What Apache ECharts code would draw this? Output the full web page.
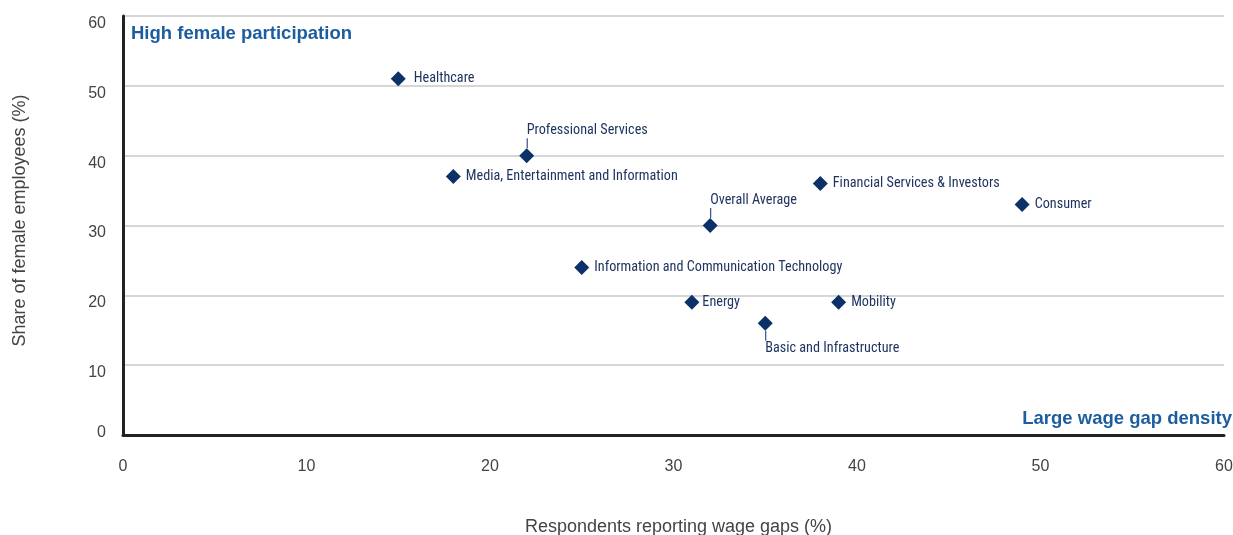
<!DOCTYPE html>
<html><head><meta charset="utf-8">
<script src="https://cdn.jsdelivr.net/npm/echarts@6/dist/echarts.min.js"></script>
<style>html,body{margin:0;padding:0;background:#fff}#c{width:1233px;height:535px}</style>
</head><body><div id="c"></div>
<script>
const sectors = ['Healthcare','Professional Services','Media, Entertainment and Information','Financial Services & Investors','Consumer','Overall Average','Information and Communication Technology','Energy','Mobility','Basic and Infrastructure'];
const wageGap = [15,22,18,38,49,32,25,31,39,35];
const femaleShare = [51,40,37,36,33,30,24,19,19,16];
const labelPlace = ['right','top','right','right','right','top','right','right','right','bottom'];
const xTicks = [0,10,20,30,40,50,60];
const yTicks = [0,10,20,30,40,50,60];

const navy = '#0b3168';
const txt = '#1f3560';
const fontNarrow = "'Liberation Sans Narrow','Roboto Condensed','Arial Narrow','DejaVu Sans Condensed',sans-serif";
const fontMain = "'Liberation Sans', Arial, sans-serif";

const data = sectors.map((s,i)=>{
  const p = labelPlace[i];
  let label;
  if (p==='top') {
    label = {position:'top', align:'left', distance:0,
      formatter:'{t|'+s+'}\n{l|}'};
  } else if (p==='bottom') {
    label = {position:'bottom', align:'left', distance:0,
      formatter:'{l|}\n{t|'+s+'}'};
  } else {
    label = {position:'right', distance: s==='Healthcare'?8:(s==='Energy'?3:5), formatter:'{t|'+s+'}'};
  }
  return {name:s, value:[wageGap[i], femaleShare[i]], label};
});

const chart = echarts.init(document.getElementById('c'));
chart.setOption({
  animation:false,
  grid:{left:123,right:9,top:16,bottom:100,outerBoundsMode:'none',containLabel:false},
  xAxis:{type:'value',min:0,max:60,interval:10,
    name:'Respondents reporting wage gaps (%)',nameLocation:'middle',nameGap:83,
    nameTextStyle:{color:'#444',fontSize:18,fontFamily:fontMain,padding:[0,0,0,10]},
    axisLine:{show:true,lineStyle:{color:'#222',width:3}},
    axisTick:{show:false},
    axisLabel:{color:'#444',fontSize:16,margin:24,fontFamily:fontMain,
      formatter:v=>xTicks.includes(v)?String(v):''},
    splitLine:{show:false}},
  yAxis:{type:'value',min:0,max:60,interval:10,
    name:'Share of female employees (%)',nameLocation:'middle',nameGap:94,
    nameTextStyle:{color:'#444',fontSize:18,fontFamily:fontMain,padding:[0,0,0,10]},
    axisLine:{show:true,lineStyle:{color:'#222',width:3}},
    axisTick:{show:false},
    axisLabel:{color:'#444',fontSize:16,margin:17,fontFamily:fontMain,
      formatter:v=>yTicks.includes(v)?(v===0?'{z|0}':'{n|'+v+'}'):'',
      rich:{
        n:{color:'#444',fontSize:16,fontFamily:fontMain,padding:[15,0,0,0]},
        z:{color:'#444',fontSize:16,fontFamily:fontMain,padding:[0,0,4,0]}
      }},
    splitLine:{show:true,lineStyle:{color:'#d6d6d6',width:2}}},
  graphic:[
    {type:'text',left:131,top:24,style:{text:'High female participation',fill:'#1c5d9f',font:"bold 18.5px 'Liberation Sans', Arial, sans-serif"}},
    {type:'text',right:1,top:409,style:{text:'Large wage gap density',fill:'#1c5d9f',font:"bold 18.5px 'Liberation Sans', Arial, sans-serif"}}
  ],
  series:[{
    type:'scatter',
    symbol:'diamond',
    symbolSize:15,
    itemStyle:{color:navy,opacity:1},
    data,
    label:{show:true,color:txt,fontSize:14.2,fontFamily:fontNarrow,
      rich:{
        t:{color:txt,fontSize:14.2,fontFamily:fontNarrow,lineHeight:16},
        l:{width:1,height:10,backgroundColor:navy}
      }}
  }]
});
</script></body></html>
